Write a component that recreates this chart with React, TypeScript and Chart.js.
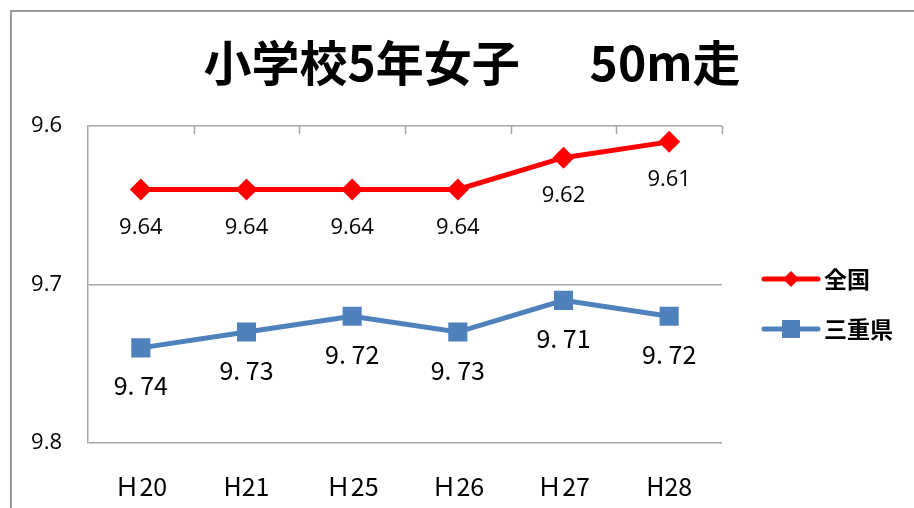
import React, { useEffect, useRef } from "react";
import { Chart, registerables } from "chart.js";

Chart.register(...registerables);

const categories = ["Ｈ20", "H21", "Ｈ25", "Ｈ26", "Ｈ27", "H28"];
const nationalValues = [9.64, 9.64, 9.64, 9.64, 9.62, 9.61];
const mieValues = [9.74, 9.73, 9.72, 9.73, 9.71, 9.72];
const seriesNames = ["全国", "三重県"];
const yTicks = [9.6, 9.7, 9.8];
const titleText = "小学校5年女子　  50m走";

const RED = "#FF0000";
const BLUE = "#4F81BD";
const GRID = "#A6A6A6";
const NARROW = '"Liberation Sans Narrow", "Noto Sans CJK JP", sans-serif';
const ROUND = '"Open Sans", "Liberation Sans", sans-serif';
const CJK = '"Noto Sans CJK JP", sans-serif';

const frameTitlePlugin = {
  id: "titleDraw",
  afterDraw(chart: any) {
    const ctx = chart.ctx;
    ctx.save();
    ctx.fillStyle = "#000";
    ctx.font = `bold 48px ${CJK}`;
    ctx.textAlign = "center";
    ctx.textBaseline = "middle";
    ctx.fillText(titleText, 472, 63);
    ctx.restore();
  },
};

const topTicksPlugin = {
  id: "topTicks",
  afterDraw(chart: any) {
    const ctx = chart.ctx;
    const xs = chart.scales.x;
    const top = chart.chartArea.top;
    ctx.save();
    ctx.strokeStyle = GRID;
    ctx.lineWidth = 1.5;
    for (let i = 1; i <= categories.length; i++) {
      const x = Math.round(xs.getPixelForValue(i - 0.5)) + 0.5;
      ctx.beginPath();
      ctx.moveTo(x, top);
      ctx.lineTo(x, top + 8);
      ctx.stroke();
    }
    ctx.restore();
  },
};

const dataLabelPlugin = {
  id: "dataLabels",
  afterDatasetsDraw(chart: any) {
    const ctx = chart.ctx;
    ctx.save();
    ctx.textAlign = "center";
    ctx.textBaseline = "middle";
    ctx.fillStyle = "#000";
    chart.data.datasets.forEach((ds: any, d: number) => {
      const meta = chart.getDatasetMeta(d);
      ctx.font = d === 0 ? `22px ${ROUND}` : `25px ${NARROW}`;
      meta.data.forEach((pt: any, i: number) => {
        const v = ds.data[i] as number;
        const txt = d === 0 ? v.toFixed(2) : v.toFixed(2).replace(".", ". ");
        ctx.fillText(txt, pt.x, pt.y + 38);
      });
    });
    ctx.restore();
  },
};

const legendPlugin = {
  id: "customLegend",
  afterDraw(chart: any) {
    const ctx = chart.ctx;
    ctx.save();
    const ys = [279, 329];
    chart.data.datasets.forEach((ds: any, d: number) => {
      const y = ys[d];
      ctx.strokeStyle = ds.borderColor;
      ctx.lineWidth = 5;
      ctx.lineCap = "round";
      ctx.beginPath();
      ctx.moveTo(764, y);
      ctx.lineTo(818, y);
      ctx.stroke();
      ctx.fillStyle = ds.borderColor;
      const cx = 791;
      if (d === 0) {
        const r = 8;
        ctx.beginPath();
        ctx.moveTo(cx - r, y);
        ctx.lineTo(cx, y - r);
        ctx.lineTo(cx + r, y);
        ctx.lineTo(cx, y + r);
        ctx.closePath();
        ctx.fill();
      } else {
        ctx.fillRect(cx - 9, y - 9, 18, 18);
      }
      ctx.fillStyle = "#000";
      ctx.font = `bold 23px ${CJK}`;
      ctx.textAlign = "left";
      ctx.textBaseline = "middle";
      ctx.fillText(ds.label, 824, y);
    });
    ctx.restore();
  },
};

export default function App() {
  const ref = useRef<HTMLCanvasElement | null>(null);
  useEffect(() => {
    if (!ref.current) return;
    const chart = new Chart(ref.current, {
      type: "line",
      data: {
        labels: categories,
        datasets: [
          {
            label: seriesNames[0],
            data: nationalValues,
            borderColor: RED,
            backgroundColor: RED,
            borderWidth: 5,
            pointStyle: "rectRot",
            pointRadius: 11,
            pointBorderWidth: 0,
            tension: 0,
          },
          {
            label: seriesNames[1],
            data: mieValues,
            borderColor: BLUE,
            backgroundColor: BLUE,
            borderWidth: 5,
            pointStyle: "rect",
            pointRadius: 13.5,
            pointBorderWidth: 0,
            tension: 0,
          },
        ],
      },
      options: {
        animation: false,
        responsive: false,
        maintainAspectRatio: false,
        layout: { padding: { left: 0, right: 192, top: 126, bottom: 0 } },
        plugins: {
          legend: { display: false },
          title: { display: false },
          tooltip: { enabled: false },
        },
        scales: {
          x: {
            offset: true,
            grid: { display: false },
            border: { display: false },
            ticks: {
              color: "#000",
              font: { family: NARROW, size: 25 },
              padding: 20,
              maxRotation: 0,
            },
            afterFit: (s: any) => {
              s.height = 65;
            },
          },
          y: {
            reverse: true,
            min: 9.6,
            max: 9.8,
            afterBuildTicks: (s: any) => {
              s.ticks = yTicks.map((v) => ({ value: v }));
            },
            ticks: {
              color: "#000",
              font: { family: ROUND, size: 22 },
              padding: 26,
              callback: (v: any) => Number(v).toFixed(1),
            },
            grid: { color: GRID, lineWidth: 1.5, drawTicks: false },
            border: { display: true, color: GRID, width: 1.5 },
            afterFit: (s: any) => {
              s.width = 88;
            },
          },
        },
      },
      plugins: [topTicksPlugin, dataLabelPlugin, legendPlugin, frameTitlePlugin],
    } as any);
    return () => chart.destroy();
  }, []);

  return (
    <div
      style={{
        position: "fixed",
        left: 0,
        top: 0,
        width: 914,
        height: 508,
        overflow: "hidden",
        background: "#fff",
      }}
    >
      <div
        style={{
          position: "absolute",
          left: 10,
          top: 10,
          width: 1200,
          height: 1200,
          border: "2px solid #999",
          boxSizing: "border-box",
        }}
      />
      <canvas
        ref={ref}
        width={914}
        height={508}
        style={{ position: "absolute", left: 0, top: 0, width: 914, height: 508 }}
      />
    </div>
  );
}
